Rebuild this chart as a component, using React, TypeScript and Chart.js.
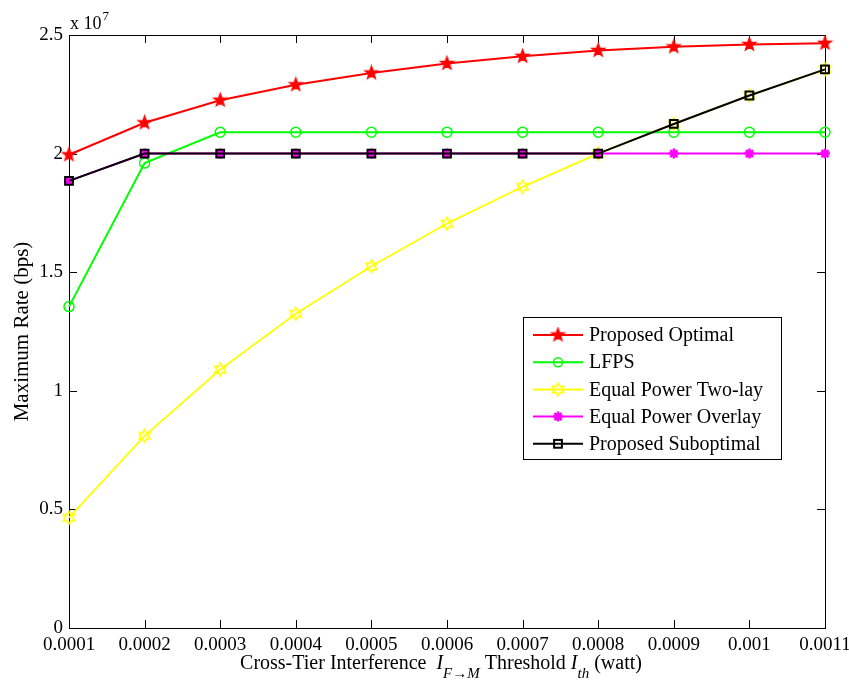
import React, { useEffect, useRef } from "react";
import { Chart, registerables } from "chart.js";

Chart.register(...registerables);

const thresholds = ["0.0001", "0.0002", "0.0003", "0.0004", "0.0005", "0.0006", "0.0007", "0.0008", "0.0009", "0.001", "0.0011"];
const proposedOptimal = [1.995, 2.13, 2.225, 2.29, 2.34, 2.38, 2.41, 2.435, 2.45, 2.46, 2.465];
const lfps = [1.355, 1.96, 2.09, 2.09, 2.09, 2.09, 2.09, 2.09, 2.09, 2.09, 2.09];
const equalTwoLay = [0.465, 0.81, 1.09, 1.325, 1.525, 1.705, 1.86, 2.0, 2.125, 2.245, 2.355];
const equalOverlay = [1.885, 2.0, 2.0, 2.0, 2.0, 2.0, 2.0, 2.0, 2.0, 2.0, 2.0];
const proposedSubopt = [1.885, 2.0, 2.0, 2.0, 2.0, 2.0, 2.0, 2.0, 2.125, 2.245, 2.355];
const yTicks = [0, 0.5, 1, 1.5, 2, 2.5];
const seriesNames = ["Proposed Optimal", "LFPS", "Equal Power Two-lay", "Equal Power Overlay", "Proposed Suboptimal"];

const FONT = "'Liberation Serif', 'Times New Roman', serif";

function makeStar(color: string, points: number, outer: number, inner: number, fill: boolean): HTMLCanvasElement {
  const size = Math.ceil(outer * 2 + 4);
  const c = document.createElement("canvas");
  c.width = size;
  c.height = size;
  const ctx = c.getContext("2d")!;
  const cx = size / 2, cy = size / 2;
  ctx.beginPath();
  for (let i = 0; i < points * 2; i++) {
    const r = i % 2 === 0 ? outer : inner;
    const a = -Math.PI / 2 + (i * Math.PI) / points;
    const x = cx + r * Math.cos(a);
    const y = cy + r * Math.sin(a);
    if (i === 0) ctx.moveTo(x, y);
    else ctx.lineTo(x, y);
  }
  ctx.closePath();
  if (fill) {
    ctx.fillStyle = color;
    ctx.fill();
  }
  ctx.strokeStyle = color;
  ctx.lineWidth = 1.5;
  ctx.stroke();
  return c;
}

export default function App() {
  const ref = useRef<HTMLCanvasElement | null>(null);

  useEffect(() => {
    if (!ref.current) return;
    const redStar = makeStar("#ff0000", 5, 6.5, 2.7, true);
    const hexagram = makeStar("#ffff00", 6, 6.5, 3.6, false);

    const drawMarker = (ctx: CanvasRenderingContext2D, idx: number, x: number, y: number) => {
      ctx.save();
      if (idx === 0) {
        ctx.drawImage(redStar, x - redStar.width / 2, y - redStar.height / 2);
      } else if (idx === 1) {
        ctx.strokeStyle = "#00ff00";
        ctx.lineWidth = 1.5;
        ctx.beginPath();
        ctx.arc(x, y, 4.5, 0, Math.PI * 2);
        ctx.stroke();
      } else if (idx === 2) {
        ctx.drawImage(hexagram, x - hexagram.width / 2, y - hexagram.height / 2);
      } else if (idx === 3) {
        ctx.strokeStyle = "#ff00ff";
        ctx.lineWidth = 2.5;
        ctx.beginPath();
        for (let k = 0; k < 4; k++) {
          const a = (k * Math.PI) / 4;
          ctx.moveTo(x - 5 * Math.cos(a), y - 5 * Math.sin(a));
          ctx.lineTo(x + 5 * Math.cos(a), y + 5 * Math.sin(a));
        }
        ctx.stroke();
      } else {
        ctx.strokeStyle = "#000000";
        ctx.lineWidth = 2;
        ctx.strokeRect(x - 3.9, y - 3.9, 7.8, 7.8);
      }
      ctx.restore();
    };

    const colors = ["#ff0000", "#00ff00", "#ffff00", "#ff00ff", "#000000"];

    const framePlugin = {
      id: "frame",
      beforeDatasetsDraw(chart: any) {
        const { ctx, chartArea: a, scales } = chart;
        ctx.save();
        ctx.strokeStyle = "#000";
        ctx.lineWidth = 1;
        ctx.strokeRect(a.left + 0.5, a.top + 0.5, a.right - a.left, a.bottom - a.top);
        ctx.beginPath();
        const xs = scales.x;
        for (let i = 0; i < thresholds.length; i++) {
          const px = Math.round(xs.getPixelForTick(i)) + 0.5;
          ctx.moveTo(px, a.bottom);
          ctx.lineTo(px, a.bottom - 8);
          ctx.moveTo(px, a.top);
          ctx.lineTo(px, a.top + 8);
        }
        const ys = scales.y;
        for (const v of yTicks) {
          const py = Math.round(ys.getPixelForValue(v)) + 0.5;
          ctx.moveTo(a.left, py);
          ctx.lineTo(a.left + 8, py);
          ctx.moveTo(a.right, py);
          ctx.lineTo(a.right - 8, py);
        }
        ctx.stroke();
        ctx.restore();
      },
      afterDatasetsDraw(chart: any) {
        const { ctx, chartArea: a } = chart;
        ctx.save();
        // exponent
        ctx.fillStyle = "#000";
        ctx.textBaseline = "alphabetic";
        ctx.textAlign = "left";
        ctx.font = `18px ${FONT}`;
        ctx.fillText("x 10", a.left + 1, a.top - 6);
        const w = ctx.measureText("x 10").width;
        ctx.font = `13px ${FONT}`;
        ctx.fillText("7", a.left + 1 + w + 1, a.top - 15);

        // y title
        ctx.save();
        ctx.translate(22, (a.top + a.bottom) / 2);
        ctx.rotate(-Math.PI / 2);
        ctx.textAlign = "center";
        ctx.textBaseline = "middle";
        ctx.font = `21px ${FONT}`;
        ctx.fillText("Maximum Rate (bps)", 0, 0);
        ctx.restore();

        // x title with subscripts
        const parts: [string, string, number][] = [
          ["Cross-Tier Interference  ", `20px ${FONT}`, 0],
          ["I", `italic 20px ${FONT}`, 0],
          ["F\u2192M", `italic 15px ${FONT}`, 9],
          [" Threshold ", `20px ${FONT}`, 0],
          ["I", `italic 20px ${FONT}`, 0],
          ["th", `italic 15px ${FONT}`, 9],
          [" (watt)", `20px ${FONT}`, 0],
        ];
        let total = 0;
        for (const p of parts) {
          ctx.font = p[1];
          total += ctx.measureText(p[0]).width;
        }
        let x = 441 - total / 2;
        const base = 669;
        ctx.textAlign = "left";
        ctx.textBaseline = "alphabetic";
        for (const p of parts) {
          ctx.font = p[1];
          ctx.fillText(p[0], x, base + p[2]);
          x += ctx.measureText(p[0]).width;
        }

        // legend
        const lx = 523, ly = 317, lw = 258, lh = 142;
        ctx.fillStyle = "#fff";
        ctx.fillRect(lx, ly, lw, lh);
        ctx.strokeStyle = "#000";
        ctx.lineWidth = 1;
        ctx.strokeRect(lx + 0.5, ly + 0.5, lw, lh);
        ctx.font = `20px ${FONT}`;
        ctx.textBaseline = "middle";
        ctx.textAlign = "left";
        for (let i = 0; i < seriesNames.length; i++) {
          const ry = 335 + i * 27.2;
          ctx.strokeStyle = colors[i];
          ctx.lineWidth = 2;
          ctx.beginPath();
          ctx.moveTo(533, ry);
          ctx.lineTo(583, ry);
          ctx.stroke();
          drawMarker(ctx, i, 558, ry);
          ctx.fillStyle = "#000";
          ctx.fillText(seriesNames[i], 589, ry + 1);
        }
        ctx.restore();
      },
    };

    const common = { fill: false, tension: 0, clip: false as const };

    const chart = new Chart(ref.current, {
      type: "line",
      data: {
        labels: thresholds,
        datasets: [
          {
            ...common,
            label: seriesNames[0],
            data: proposedOptimal,
            borderColor: "#ff0000",
            borderWidth: 2,
            pointStyle: redStar as any,
            pointRadius: 7,
            order: 5,
          },
          {
            ...common,
            label: seriesNames[1],
            data: lfps,
            borderColor: "#00ff00",
            borderWidth: 2,
            pointStyle: "circle",
            pointRadius: 5,
            pointBorderWidth: 1.5,
            pointBorderColor: "#00ff00",
            pointBackgroundColor: "rgba(0,0,0,0)",
            order: 4,
          },
          {
            ...common,
            label: seriesNames[2],
            data: equalTwoLay,
            borderColor: "#ffff00",
            borderWidth: 1.8,
            pointStyle: hexagram as any,
            pointRadius: 7,
            order: 3,
          },
          {
            ...common,
            label: seriesNames[3],
            data: equalOverlay,
            borderColor: "#ff00ff",
            borderWidth: 2,
            pointStyle: "star",
            pointRadius: 5,
            pointBorderWidth: 2.5,
            pointBorderColor: "#ff00ff",
            pointBackgroundColor: "#ff00ff",
            order: 2,
          },
          {
            ...common,
            label: seriesNames[4],
            data: proposedSubopt,
            borderColor: "#000000",
            borderWidth: 2,
            pointStyle: "rect",
            pointRadius: 5.5,
            pointBorderWidth: 2,
            pointBorderColor: "#000000",
            pointBackgroundColor: "rgba(0,0,0,0)",
            order: 1,
          },
        ],
      },
      options: {
        responsive: false,
        animation: false,
        events: [],
        layout: { padding: { top: 35, right: 24, left: 0, bottom: 0 } },
        plugins: {
          legend: { display: false },
          tooltip: { enabled: false },
          title: { display: false },
        },
        scales: {
          x: {
            type: "category",
            offset: false,
            grid: { display: false, drawTicks: false },
            border: { display: false },
            ticks: {
              color: "#000",
              font: { family: FONT, size: 19 },
              padding: 6,
              maxRotation: 0,
              autoSkip: false,
            },
            afterFit: (s: any) => {
              s.height = 59;
              s.paddingLeft = 0;
              s.paddingRight = 0;
            },
          },
          y: {
            type: "linear",
            min: 0,
            max: 2.5,
            grid: { display: false, drawTicks: false },
            border: { display: false },
            ticks: {
              stepSize: 0.5,
              color: "#000",
              font: { family: FONT, size: 19 },
              padding: 6,
              callback: (v: any) => String(v),
            },
            afterFit: (s: any) => {
              s.width = 69;
              s.paddingTop = 0;
              s.paddingBottom = 0;
            },
          },
        },
      },
      plugins: [framePlugin],
    });

    return () => chart.destroy();
  }, []);

  return (
    <div style={{ position: "absolute", left: 0, top: 0, width: 849, height: 687, background: "#fff" }}>
      <canvas ref={ref} width={849} height={687} style={{ display: "block" }} />
    </div>
  );
}
